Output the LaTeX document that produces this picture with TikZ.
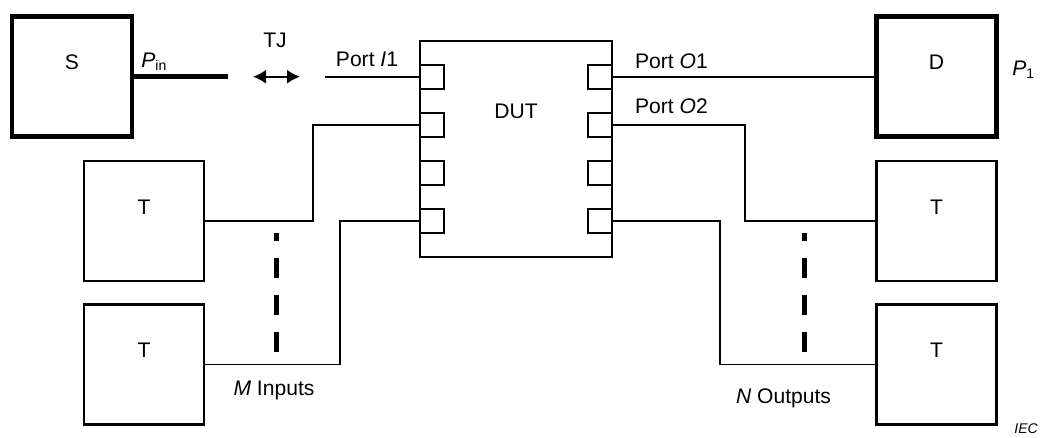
\documentclass[tikz,border=0pt]{standalone}
\usepackage{fontspec}
\setmainfont{Liberation Sans}
\usetikzlibrary{arrows.meta}

\begin{document}
\begin{tikzpicture}[
  x=0.02cm, y=-0.02cm,
  every node/.style={font=\fontsize{12}{14}\selectfont},
  srcbox/.style={rectangle, draw, line width=0.09cm, minimum width=2.4cm,
                 minimum height=2.4cm, inner sep=0, text height=0.3cm, text depth=0.58cm},
  termbox/.style={srcbox, line width=0.05cm},
  dutbox/.style={rectangle, draw, line width=0.04cm, minimum width=3.84cm,
                 minimum height=4.32cm, inner sep=0, text height=0.3cm, text depth=1.53cm},
  portbox/.style={rectangle, draw, line width=0.04cm, minimum size=0.48cm, inner sep=0},
  wire/.style={line width=0.032cm},
  feed/.style={line width=0.1cm},
  gap/.style={line width=0.1cm, dash pattern=on 0.4cm off 0.34cm},
  lbl/.style={inner sep=0, anchor=base},
  tip/.style={line width=0.04cm, {Latex[length=0.26cm,width=0.28cm]}-{Latex[length=0.26cm,width=0.28cm]}},
]
\useasboundingbox (0,0) rectangle (1047,437);
% source, detector and terminations
\node[srcbox] (s) at (72,76.7) {S};
\node[srcbox] (d) at (936.5,76.7) {D};
\node[termbox] (tl1) at (144,221) {T};
\node[termbox] (tl2) at (144,364.5) {T};
\node[termbox] (tr1) at (936.5,221) {T};
\node[termbox] (tr2) at (936.5,364.5) {T};
% device under test with its ports
\node[dutbox] (dut) at (516,149) {DUT};
\foreach \i in {1,...,4} {
  \node[portbox] (pl\i) at (432,{28.7+48*\i}) {};
  \node[portbox] (pr\i) at (600,{28.7+48*\i}) {};
}
% input side
\coordinate (pinend) at (228,76.7);
\coordinate (tjl) at (253,76.7);
\coordinate (tjr) at (300,76.7);
\coordinate (i1) at (325,76.7);
\draw[feed] (s.east) -- (pinend);
\draw[tip] (tjl) -- (tjr);
\draw[wire] (i1) -- (pl1.west);
\draw[wire] (tl1.east) -- ++(108,0) |- (pl2.west);
\draw[wire] (tl2.east) -- ++(135,0) |- (pl4.west);
% output side
\draw[wire] (pr1.east) -- (d.west);
\draw[wire] (pr2.east) -- ++(132,0) |- (tr1.west);
\draw[wire] (pr4.east) -- ++(107,0) |- (tr2.west);
% more ports
\coordinate (mlow) at (276,352);
\coordinate (mhigh) at (276,233);
\coordinate (nlow) at (804,352);
\coordinate (nhigh) at (804,233);
\draw[gap] (mlow) -- (mhigh);
\draw[gap] (nlow) -- (nhigh);
% labels
\node[lbl] (tj) at (275,47) {TJ};
\node[lbl] (porti1) at (367,66.5) {Port \textit{I}1};
\node[lbl, anchor=base west] (pinlbl) at (141,67) {\textit{P}\textsubscript{in}};
\node[lbl] (porto1) at (671.5,68) {Port \textit{O}1};
\node[lbl] (porto2) at (671.5,113) {Port \textit{O}2};
\node[lbl, anchor=base west] (p1lbl) at (1012,75) {\textit{P}\textsubscript{1}};
\node[lbl] (mlbl) at (274,395) {\textit{M} Inputs};
\node[lbl] (nlbl) at (783.5,403) {\textit{N} Outputs};
\node[lbl, anchor=base west, font=\fontsize{8}{9}\selectfont\itshape] (iec) at (1014,433) {IEC};
\end{tikzpicture}
\end{document}
